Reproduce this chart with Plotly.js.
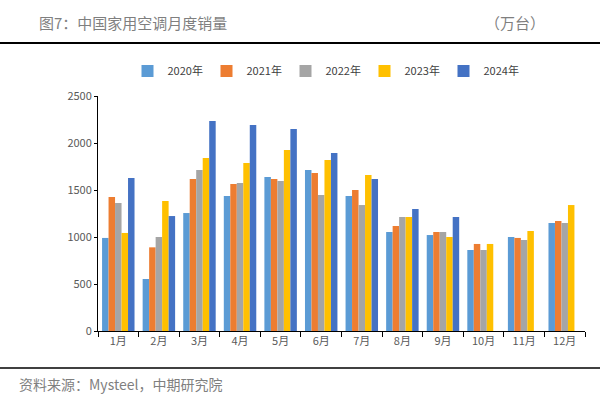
<!DOCTYPE html>
<html><head><meta charset="utf-8">
<script src="https://cdn.plot.ly/plotly-3.0.1.min.js"></script>
<style>body{margin:0;background:#fff}#c{width:600px;height:402px}</style>
</head><body><div id="c"></div>
<script>
const months = ['1月','2月','3月','4月','5月','6月','7月','8月','9月','10月','11月','12月'];
const seriesNames = ['2020年','2021年','2022年','2023年','2024年'];
const s2020 = [990, 553, 1255, 1436, 1638, 1713, 1436, 1053, 1021, 862, 1000, 1149];
const s2021 = [1425, 890, 1617, 1564, 1617, 1681, 1500, 1117, 1053, 926, 990, 1170];
const s2022 = [1362, 1000, 1713, 1574, 1596, 1447, 1340, 1213, 1053, 862, 968, 1149];
const s2023 = [1043, 1383, 1840, 1787, 1926, 1819, 1660, 1213, 1000, 926, 1064, 1340];
const s2024 = [1628, 1223, 2234, 2191, 2149, 1894, 1617, 1298, 1213, null, null, null];
const colors = ['#5B9BD5','#ED7D31','#A5A5A5','#FFC000','#4472C4'];
const all = [s2020, s2021, s2022, s2023, s2024];
const traces = all.map((v,i)=>({type:'bar', name:seriesNames[i], x:months, y:v, marker:{color:colors[i]}}));
const font = 'Noto Sans CJK SC, sans-serif';
const PW = 487, PH = 235;
const layout = {
  width:600, height:402,
  margin:{l:98, r:15, t:96, b:71},
  paper_bgcolor:'#fff', plot_bgcolor:'#fff',
  barmode:'group', bargap:0.2, bargroupgap:0,
  font:{family:font, color:'#595959', size:11},
  showlegend:true,
  legend:{orientation:'h', x:(325-98)/PW, xanchor:'center', y:(331-71)/PH, yanchor:'middle', font:{size:11, color:'#404040'}, itemwidth:30, entrywidth:34, entrywidthmode:'pixels', tracegroupgap:0, bgcolor:'rgba(0,0,0,0)'},
  xaxis:{type:'category', showline:true, linecolor:'#000', linewidth:1, ticks:'outside', ticklen:5, tickcolor:'#000', tickson:'boundaries', showgrid:false, tickfont:{size:11, color:'#595959'}},
  yaxis:{range:[0,2500], dtick:500, showline:true, linecolor:'#000', linewidth:1, ticks:'outside', ticklen:3, tickcolor:'#000', showgrid:false, zeroline:false, tickfont:{size:11, color:'#595959'}},
  annotations:[
    {xref:'paper', yref:'paper', x:(37-98)/PW, y:(331-22)/PH, text:'图7：中国家用空调月度销量', showarrow:false, xanchor:'left', yanchor:'middle', font:{size:15, color:'#7f7f7f', family:font}},
    {xref:'paper', yref:'paper', x:(547-98)/PW, y:(331-22)/PH, text:'（万台）', showarrow:false, xanchor:'right', yanchor:'middle', font:{size:15, color:'#7f7f7f', family:font}},
    {xref:'paper', yref:'paper', x:(17-98)/PW, y:(331-384)/PH, text:'资料来源：Mysteel，中期研究院', showarrow:false, xanchor:'left', yanchor:'middle', font:{size:14, color:'#7f7f7f', family:font}}
  ],
  shapes:[
    {type:'line', xref:'paper', yref:'paper', x0:-98/PW, x1:(600-98)/PW, y0:(331-43)/PH, y1:(331-43)/PH, line:{color:'#000', width:2}},
    {type:'line', xref:'paper', yref:'paper', x0:-98/PW, x1:(600-98)/PW, y0:(331-368)/PH, y1:(331-368)/PH, line:{color:'#000', width:1.5}}
  ]
};
Plotly.newPlot('c', traces, layout, {displayModeBar:false, staticPlot:true});
</script></body></html>
